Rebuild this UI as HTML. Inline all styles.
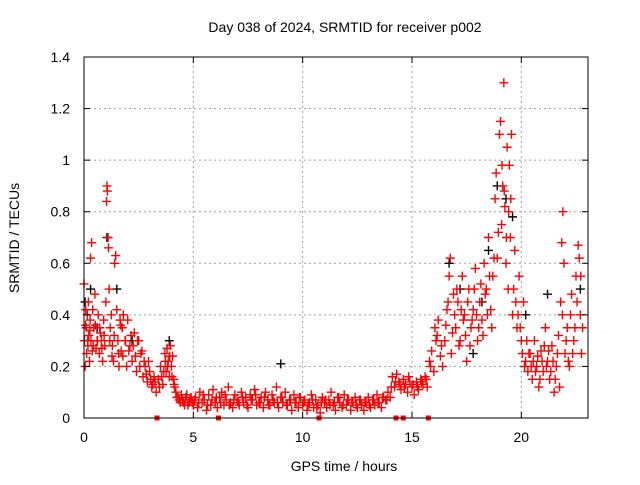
<!DOCTYPE html>
<html><head><meta charset="utf-8"><style>
body{margin:0;background:#fff;}
svg text{font-family:"Liberation Sans",sans-serif;font-size:14px;fill:#000;}
</style></head><body>
<svg id="chart" width="640" height="480" xmlns="http://www.w3.org/2000/svg">
<rect width="640" height="480" fill="#fff"/>
<g id="grid"></g>
<g id="pts"></g>
<rect x="84" y="57" width="504" height="361" fill="none" stroke="#000" stroke-width="1"/>
<g id="ticks"></g>
<text x="345" y="32" text-anchor="middle">Day 038 of 2024, SRMTID for receiver p002</text>
<text x="344" y="471" text-anchor="middle">GPS time / hours</text>
<text transform="translate(19,238) rotate(-90)" text-anchor="middle">SRMTID / TECUs</text>
</svg>
<script>
const xTicks=[0,5,10,15,20];
const yTicks=[0,0.2,0.4,0.6,0.8,1,1.2,1.4];
const yTickLabels=["0","0.2","0.4","0.6","0.8","1","1.2","1.4"];
const redTimes=[0,0.02,0.05,0.08,0.1,0.12,0.15,0.18,0.2,0.22,0.25,0.28,0.3,0.32,0.35,0.38,0.4,0.45,0.5,0.55,0.6,0.65,0.7,0.75,0.8,0.85,0.9,0.95,1.0,1.03,1.05,1.07,1.1,1.12,1.15,1.2,1.25,1.3,1.35,1.4,1.45,1.5,1.55,1.6,1.65,1.7,1.75,1.8,1.9,1.95,2.0,2.1,2.2,2.3,2.4,2.5,2.6,2.7,2.8,2.9,3.0,3.1,3.2,3.3,3.4,3.5,3.6,3.7,3.75,3.8,3.85,3.9,3.95,4.0,4.05,4.1,4.15,4.2,4.3,4.4,4.5,4.6,4.7,4.8,4.9,
5.0,5.1,5.2,5.3,5.4,5.5,5.6,5.7,5.8,5.9,6.0,6.1,6.2,6.3,6.4,6.5,6.6,6.7,6.8,6.9,7.0,7.1,7.2,7.3,7.4,7.5,7.6,7.7,7.8,7.9,8.0,8.1,8.2,8.3,8.4,8.5,8.6,8.7,8.8,8.9,9.0,9.1,9.2,9.3,9.4,9.5,9.6,9.7,9.8,9.9,10.0,10.1,10.2,10.3,10.4,10.5,10.6,10.7,10.8,10.9,11.0,11.1,11.2,11.3,11.4,11.5,11.6,11.7,11.8,11.9,12.0,12.1,12.2,12.3,12.4,12.5,12.6,12.7,12.8,12.9,13.0,13.1,13.2,13.3,13.4,13.5,13.6,13.7,13.8,13.9,
14.0,14.1,14.2,14.3,14.4,14.5,14.6,14.7,14.8,14.9,15.0,15.1,15.2,15.3,15.4,15.5,15.6,15.7,15.8,15.9,16.0,16.05,16.1,16.2,16.3,16.4,16.5,16.6,16.7,16.75,16.8,16.9,17.0,17.1,17.2,17.3,17.4,17.5,17.6,17.7,17.8,17.9,18.0,18.1,18.2,18.3,18.4,18.5,18.6,18.7,18.8,18.85,18.9,19.0,19.05,19.1,19.15,19.2,19.25,19.3,19.35,19.4,19.45,19.5,19.55,19.6,19.7,19.8,19.9,20.0,20.1,20.2,20.3,20.4,20.5,20.6,20.7,20.8,20.9,21.0,21.1,21.2,21.3,21.4,21.5,21.6,21.7,21.75,21.8,21.85,21.9,21.95,22.0,22.1,22.2,22.3,22.4,22.5,22.6,22.65,22.7,22.75,22.8,
0.07,0.17,0.27,0.42,0.52,0.62,0.72,0.82,0.92,1.18,1.28,1.38,1.58,1.68,1.78,1.88,2.05,2.15,2.25,2.35,2.45,2.55,2.65,2.75,2.85,2.95,3.05,3.15,3.25,3.45,3.55,3.65,3.72,3.82,3.92,4.02,4.12,4.25,4.35,4.45,4.55,4.65,4.75,4.85,4.95,
5.05,5.25,5.45,5.65,5.85,6.05,6.25,6.45,6.65,6.85,7.05,7.25,7.45,7.65,7.85,8.05,8.25,8.45,8.65,8.85,9.05,9.25,9.45,9.65,9.85,10.05,10.25,10.45,10.65,10.85,11.05,11.25,11.45,11.65,11.85,12.05,12.25,12.45,12.65,12.85,13.05,13.25,13.45,13.65,13.85,
14.05,14.25,14.45,14.65,14.85,15.05,15.25,15.45,15.65,15.85,16.15,16.35,16.55,16.65,16.85,16.95,17.05,17.15,17.25,17.35,17.45,17.55,17.65,17.75,17.85,17.95,18.05,18.15,18.25,18.35,18.45,18.55,18.65,18.75,18.95,19.12,19.22,19.32,19.42,19.52,19.65,19.75,19.85,19.95,20.05,20.15,20.25,20.35,20.45,20.55,20.65,20.75,20.85,20.95,21.05,21.15,21.25,21.35,21.45,21.55,21.65,21.88,22.05,22.15,22.25,22.35,22.45,22.55,22.72];
const redValues=[0.52,0.3,0.2,0.42,0.35,0.25,0.4,0.28,0.45,0.32,0.22,0.38,0.62,0.3,0.68,0.26,0.42,0.35,0.48,0.27,0.3,0.4,0.25,0.33,0.3,0.22,0.38,0.28,0.45,0.84,0.9,0.88,0.7,0.66,0.5,0.35,0.4,0.28,0.22,0.6,0.63,0.42,0.3,0.2,0.38,0.26,0.35,0.4,0.3,0.2,0.38,0.28,0.22,0.33,0.18,0.3,0.25,0.16,0.2,0.14,0.18,0.12,0.16,0.1,0.15,0.2,0.13,0.25,0.18,0.27,0.22,0.16,0.28,0.2,0.24,0.15,0.12,0.1,0.08,0.06,0.07,0.05,0.09,0.06,0.08,
0.05,0.08,0.04,0.1,0.06,0.07,0.03,0.09,0.05,0.11,0.06,0.04,0.08,0.1,0.05,0.07,0.12,0.06,0.04,0.09,0.07,0.05,0.1,0.06,0.08,0.04,0.09,0.07,0.11,0.05,0.06,0.08,0.04,0.1,0.07,0.05,0.09,0.06,0.12,0.04,0.08,0.06,0.1,0.05,0.07,0.03,0.09,0.06,0.04,0.08,0.05,0.07,0.03,0.06,0.09,0.04,0.07,0.05,0.02,0.08,0.06,0.04,0.07,0.1,0.05,0.03,0.08,0.06,0.04,0.09,0.05,0.07,0.03,0.06,0.08,0.04,0.07,0.05,0.03,0.06,0.08,0.04,0.07,0.05,0.09,0.06,0.04,0.08,0.07,0.1,
0.08,0.16,0.12,0.17,0.14,0.11,0.15,0.13,0.1,0.14,0.12,0.09,0.14,0.11,0.15,0.13,0.16,0.12,0.22,0.26,0.18,0.35,0.3,0.38,0.24,0.2,0.3,0.42,0.55,0.62,0.25,0.48,0.35,0.45,0.3,0.55,0.4,0.22,0.5,0.35,0.42,0.58,0.3,0.45,0.38,0.6,0.5,0.7,0.42,0.55,0.85,0.95,0.62,1.1,1.15,0.75,0.9,1.3,0.82,0.6,1.05,0.5,0.98,0.7,1.1,0.4,0.65,0.35,0.55,0.3,0.45,0.22,0.18,0.25,0.15,0.3,0.2,0.12,0.26,0.18,0.35,0.22,0.15,0.28,0.1,0.2,0.32,0.12,0.45,0.68,0.8,0.6,0.25,0.35,0.2,0.48,0.3,0.55,0.67,0.62,0.4,0.25,0.35,
0.36,0.3,0.34,0.28,0.36,0.3,0.35,0.27,0.32,0.3,0.24,0.32,0.25,0.36,0.24,0.3,0.26,0.32,0.28,0.24,0.3,0.2,0.26,0.22,0.17,0.22,0.15,0.13,0.14,0.12,0.16,0.18,0.22,0.2,0.24,0.16,0.13,0.08,0.07,0.09,0.06,0.08,0.05,0.07,0.06,
0.07,0.06,0.09,0.05,0.07,0.08,0.06,0.09,0.05,0.07,0.06,0.08,0.05,0.07,0.09,0.06,0.08,0.05,0.07,0.06,0.08,0.05,0.07,0.06,0.08,0.06,0.05,0.07,0.04,0.06,0.07,0.05,0.06,0.08,0.05,0.07,0.06,0.05,0.07,0.06,0.05,0.07,0.06,0.08,0.07,
0.12,0.14,0.13,0.12,0.16,0.13,0.12,0.14,0.15,0.2,0.32,0.28,0.36,0.45,0.33,0.4,0.5,0.28,0.42,0.38,0.32,0.45,0.28,0.38,0.5,0.4,0.35,0.52,0.32,0.48,0.4,0.55,0.35,0.62,0.72,0.98,0.88,0.7,0.8,0.85,0.5,0.45,0.4,0.35,0.25,0.2,0.3,0.25,0.2,0.22,0.18,0.24,0.15,0.22,0.28,0.2,0.26,0.18,0.22,0.15,0.25,0.4,0.3,0.22,0.4,0.25,0.35,0.45,0.55];
const blackTimes=[0.05,0.3,0.6,1.05,1.5,2.2,3.9,9.0,16.7,17.2,17.8,18.2,18.5,18.9,19.3,19.6,20.2,21.2,22.7];
const blackValues=[0.45,0.5,0.35,0.7,0.5,0.3,0.3,0.21,0.6,0.5,0.25,0.45,0.65,0.9,0.85,0.78,0.4,0.48,0.5];
const zeroTimes=[3.34,6.15,10.75,14.27,14.6,15.75];

const NS="http://www.w3.org/2000/svg";
const X0=84,X1=588,XMAX=23.05,Y0=418,Y1=57,YMAX=1.4;
function xs(t){return X0+(X1-X0)*t/XMAX;}
function ys(v){return Y0-(Y0-Y1)*v/YMAX;}
function mk(tag,a){const e=document.createElementNS(NS,tag);for(const k in a)e.setAttribute(k,a[k]);return e;}
const grid=document.getElementById('grid'),ticks=document.getElementById('ticks'),pts=document.getElementById('pts');
xTicks.forEach(t=>{const x=xs(t);
 if(t>0){const g=mk('line',{x1:x,x2:x,y1:Y0,y2:Y1,stroke:'#a0a0a0','stroke-dasharray':'2,3'});
 
 grid.appendChild(g);}
 ticks.appendChild(mk('line',{x1:x,x2:x,y1:Y0,y2:Y0-6,stroke:'#000'}));
 ticks.appendChild(mk('line',{x1:x,x2:x,y1:Y1,y2:Y1+6,stroke:'#000'}));
 const tx=mk('text',{x:x,y:Y0+24,'text-anchor':'middle'});tx.textContent=t;
 
 ticks.appendChild(tx);});
yTicks.forEach((v,i)=>{const y=ys(v);
 if(v>0&&v<YMAX){const g=mk('line',{x1:X0,x2:X1,y1:y,y2:y,stroke:'#a0a0a0','stroke-dasharray':'2,3'});
 
 grid.appendChild(g);}
 ticks.appendChild(mk('line',{x1:X0,x2:X0+6,y1:y,y2:y,stroke:'#000'}));
 ticks.appendChild(mk('line',{x1:X1,x2:X1-6,y1:y,y2:y,stroke:'#000'}));
 const tx=mk('text',{x:X0-14,y:y+5,'text-anchor':'end'});tx.textContent=yTickLabels[i];
 
 ticks.appendChild(tx);});
function plus(t,v,c,name){const x=xs(t),y=ys(v);
 const p=mk('path',{d:`M${x-4.5},${y}H${x+4.5}M${x},${y-4.5}V${y+4.5}`,stroke:c,'stroke-width':1.4,fill:'none'});
 
 pts.appendChild(p);}
blackTimes.forEach((t,i)=>plus(t,blackValues[i],'#000','black-point'));
redTimes.forEach((t,i)=>{plus(t,redValues[i],'#ff0000','red-point');});
zeroTimes.forEach(t=>{const r=mk('rect',{x:xs(t)-2.5,y:Y0-2.5,width:5,height:5,fill:'#ff0000'});
 
 pts.appendChild(r);});
</script>
</body></html>
